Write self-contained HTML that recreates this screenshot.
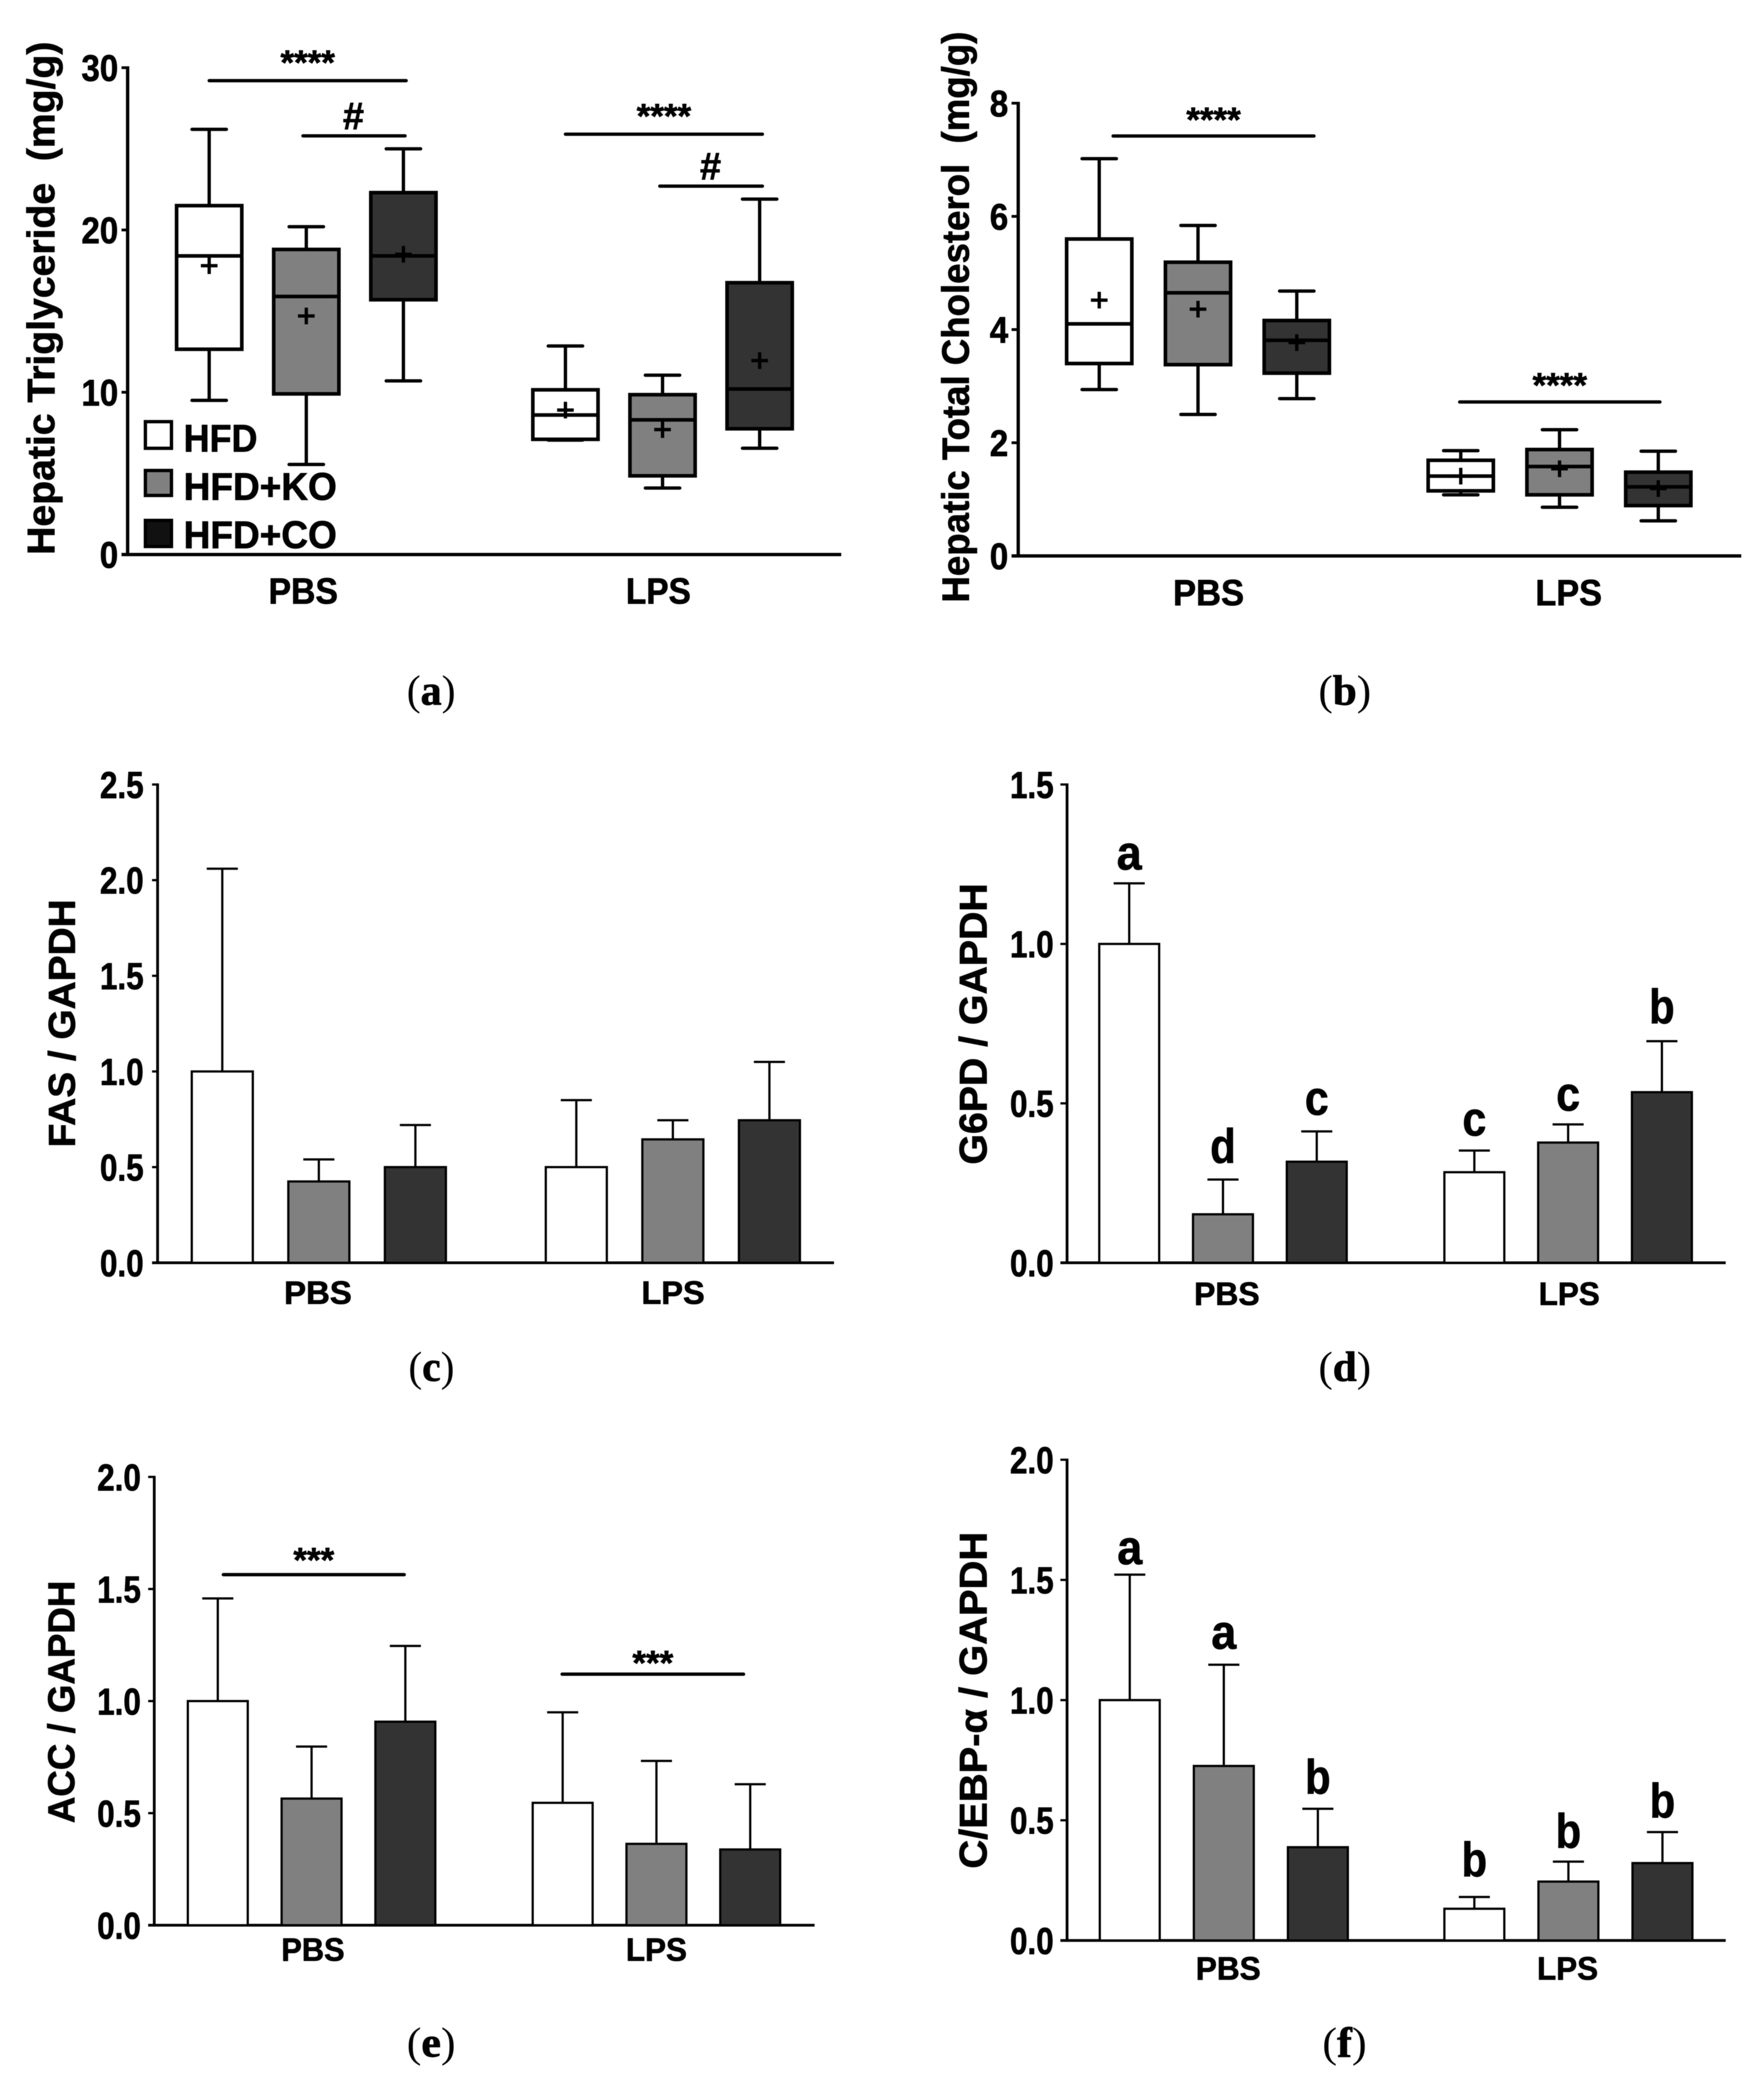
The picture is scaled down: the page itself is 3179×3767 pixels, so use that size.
<!DOCTYPE html>
<html lang="en">
<head>
<meta charset="utf-8">
<title>Hepatic lipid and gene expression charts</title>
<style>
html,body{margin:0;padding:0;background:#fff;}
svg{display:block;filter:blur(0.6px);}
text{font-family:"Liberation Sans",Arial,sans-serif;font-weight:bold;fill:#000;stroke:#000;stroke-width:1.1px;}
.cap{font-family:"Liberation Serif",serif;font-weight:normal;stroke:none;}
.cap tspan{font-weight:bold;stroke:#000;stroke-width:1.2px;}
</style>
</head>
<body>
<svg id="figure" xmlns="http://www.w3.org/2000/svg" width="3179" height="3767" viewBox="0 0 3179 3767">
<rect width="3179" height="3767" fill="#fff"/>

<g id="panel-a">
<text transform="translate(98,1000) rotate(-90)" font-size="70" textLength="925" lengthAdjust="spacingAndGlyphs">Hepatic Triglyceride&#160;&#160;(mg/g)</text>
<text x="484" y="1088" font-size="66" textLength="125" lengthAdjust="spacingAndGlyphs">PBS</text>
<text x="1128" y="1088" font-size="66" textLength="117" lengthAdjust="spacingAndGlyphs">LPS</text>
<text class="cap" x="733" y="1270" font-size="76" textLength="88" lengthAdjust="spacingAndGlyphs">(<tspan>a</tspan>)</text>
</g>

<g id="panel-b">
<text transform="translate(1746,1086) rotate(-90)" font-size="69" textLength="1029" lengthAdjust="spacingAndGlyphs">Hepatic Total Cholesterol&#160;&#160;(mg/g)</text>
<text x="2114" y="1091" font-size="66" textLength="128" lengthAdjust="spacingAndGlyphs">PBS</text>
<text x="2767" y="1091" font-size="66" textLength="120" lengthAdjust="spacingAndGlyphs">LPS</text>
<text class="cap" x="2376" y="1270" font-size="76" textLength="95" lengthAdjust="spacingAndGlyphs">(<tspan>b</tspan>)</text>
</g>

<g id="panel-c">
<text transform="translate(135,2068) rotate(-90)" font-size="68" textLength="447" lengthAdjust="spacingAndGlyphs">FAS / GAPDH</text>
<text x="512" y="2350" font-size="58" textLength="122" lengthAdjust="spacingAndGlyphs">PBS</text>
<text x="1156" y="2350" font-size="58" textLength="114" lengthAdjust="spacingAndGlyphs">LPS</text>
<text class="cap" x="736" y="2489" font-size="76" textLength="83" lengthAdjust="spacingAndGlyphs">(<tspan>c</tspan>)</text>
</g>

<g id="panel-d">
<text transform="translate(1778,2099) rotate(-90)" font-size="70" textLength="507" lengthAdjust="spacingAndGlyphs">G6PD / GAPDH</text>
<text x="2152" y="2352" font-size="58" textLength="118" lengthAdjust="spacingAndGlyphs">PBS</text>
<text x="2773" y="2352" font-size="58" textLength="110" lengthAdjust="spacingAndGlyphs">LPS</text>
<text class="cap" x="2376" y="2489" font-size="76" textLength="95" lengthAdjust="spacingAndGlyphs">(<tspan>d</tspan>)</text>
</g>

<g id="panel-e">
<text transform="translate(134,3286) rotate(-90)" font-size="68" textLength="437" lengthAdjust="spacingAndGlyphs">ACC / GAPDH</text>
<text x="507" y="3534" font-size="58" textLength="114" lengthAdjust="spacingAndGlyphs">PBS</text>
<text x="1128" y="3534" font-size="58" textLength="110" lengthAdjust="spacingAndGlyphs">LPS</text>
<text class="cap" x="733" y="3707" font-size="76" textLength="88" lengthAdjust="spacingAndGlyphs">(<tspan>e</tspan>)</text>
</g>

<g id="panel-f">
<text transform="translate(1778,3368) rotate(-90)" font-size="70" textLength="607" lengthAdjust="spacingAndGlyphs">C/EBP-α / GAPDH</text>
<text x="2155" y="3568" font-size="58" textLength="117" lengthAdjust="spacingAndGlyphs">PBS</text>
<text x="2770" y="3568" font-size="58" textLength="110" lengthAdjust="spacingAndGlyphs">LPS</text>
<text class="cap" x="2383" y="3707" font-size="76" textLength="80" lengthAdjust="spacingAndGlyphs">(<tspan>f</tspan>)</text>
</g>

<g id="legend">
<rect x="262" y="760" width="47" height="48" fill="#fff" stroke="#000" stroke-width="6"/>
<text x="331" y="814" font-size="70" textLength="133" lengthAdjust="spacingAndGlyphs">HFD</text>
<rect x="262" y="848" width="47" height="45" fill="#808080" stroke="#000" stroke-width="6"/>
<text x="331" y="901" font-size="70" textLength="276" lengthAdjust="spacingAndGlyphs">HFD+KO</text>
<rect x="262" y="938" width="47" height="47" fill="#111" stroke="#000" stroke-width="6"/>
<text x="331" y="988" font-size="70" textLength="276" lengthAdjust="spacingAndGlyphs">HFD+CO</text>
</g>
</svg>

<script>
// ---------- shared categories ----------
const groups = ["PBS", "LPS"];
const treatments = ["HFD", "HFD+KO", "HFD+CO"];

// ---------- panel a: hepatic triglyceride (boxes; order PBS x3, LPS x3) ----------
const aTicks = ["0", "10", "20", "30"];
const aWhiskerHigh = [26.2, 20.2, 25.0, 12.85, 11.05, 21.9];
const aQ3 = [21.5, 18.8, 22.3, 10.15, 9.85, 16.75];
const aMedian = [18.4, 15.9, 18.4, 8.6, 8.3, 10.2];
const aQ1 = [12.65, 9.9, 15.7, 7.1, 4.85, 7.75];
const aWhiskerLow = [9.5, 5.55, 10.7, 7.05, 4.1, 6.55];
const aMean = [17.8, 14.7, 18.5, 8.9, 7.7, 11.95];
const aBracketValues = [29.2, 25.8, 25.9, 22.7];
const aBracketLabels = ["****", "#", "****", "#"];

// ---------- panel b: hepatic total cholesterol ----------
const bTicks = ["0", "2", "4", "6", "8"];
const bWhiskerHigh = [7.02, 5.84, 4.68, 1.86, 2.23, 1.85];
const bQ3 = [5.6, 5.19, 4.16, 1.69, 1.88, 1.48];
const bMedian = [4.1, 4.65, 3.81, 1.41, 1.58, 1.22];
const bQ1 = [3.4, 3.38, 3.23, 1.15, 1.08, 0.89];
const bWhiskerLow = [2.94, 2.5, 2.78, 1.08, 0.86, 0.62];
const bMean = [4.52, 4.36, 3.77, 1.41, 1.54, 1.19];
const bBracketValues = [7.42, 2.72];
const bBracketLabels = ["****", "****"];

// ---------- panel c: FAS ----------
const cTicks = ["0.0", "0.5", "1.0", "1.5", "2.0", "2.5"];
const cMeans = [1.0, 0.425, 0.5, 0.5, 0.645, 0.745];
const cErrorTops = [2.06, 0.54, 0.72, 0.85, 0.745, 1.05];

// ---------- panel d: G6PD ----------
const dTicks = ["0.0", "0.5", "1.0", "1.5"];
const dMeans = [1.0, 0.152, 0.317, 0.284, 0.377, 0.535];
const dErrorTops = [1.19, 0.261, 0.412, 0.352, 0.434, 0.695];
const dLetters = ["a", "d", "c", "c", "c", "b"];

// ---------- panel e: ACC ----------
const eTicks = ["0.0", "0.5", "1.0", "1.5", "2.0"];
const eMeans = [1.0, 0.565, 0.908, 0.546, 0.363, 0.338];
const eErrorTops = [1.458, 0.797, 1.246, 0.95, 0.733, 0.629];
const eBracketValues = [1.564, 1.12];
const eBracketLabels = ["***", "***"];

// ---------- panel f: C/EBP-alpha ----------
const fTicks = ["0.0", "0.5", "1.0", "1.5", "2.0"];
const fMeans = [1.0, 0.726, 0.388, 0.132, 0.245, 0.322];
const fErrorTops = [1.522, 1.147, 0.548, 0.181, 0.328, 0.451];
const fLetters = ["a", "a", "b", "b", "b", "b"];

// ---------- drawing ----------
const SVGNS = "http://www.w3.org/2000/svg";
const FILLS = ["#ffffff", "#808080", "#333333"];

function node(parent, tag, name, attrs, content) {
  const el = document.createElementNS(SVGNS, tag);
  
  
  for (const k in attrs) el.setAttribute(k, attrs[k]);
  if (content !== undefined) el.textContent = content;
  parent.appendChild(el);
  return el;
}
function line(parent, name, x1, y1, x2, y2, w, round) {
  const el = node(parent, "line", name, {x1: x1, y1: y1, x2: x2, y2: y2, stroke: "#000", "stroke-width": w});
  if (round) el.setAttribute("stroke-linecap", "round");
  return el;
}
function scales(L) {
  return {
    y: function (v) { return L.yBottom - (v / L.ymax) * (L.yBottom - L.yTop); },
    x: function (i) {
      const g = Math.floor(i / treatments.length), s = i % treatments.length;
      return L.x0 + g * L.groupGap + s * L.step;
    }
  };
}
function drawAxes(g, L, ticks, S) {
  line(g, "y-axis", L.axisX, L.yTop - L.tickW / 2, L.axisX, L.yBottom + 2, L.axisW);
  line(g, "x-axis", L.axisLeft, L.yBottom, L.axisRight, L.yBottom, L.axisW);
  ticks.forEach(function (t) {
    const y = S.y(Number(t));
    line(g, "y-tick", L.axisLeft, y, L.axisX, y, L.tickW);
    const em = (t.replace(".", "").length * 0.556 + (t.indexOf(".") >= 0 ? 0.278 : 0)) * L.tickFont * L.tickSqueeze;
    node(g, "text", "y-tick-label", {
      x: L.tickRight, y: y + L.tickFont * 0.358, "text-anchor": "end",
      "font-size": L.tickFont, textLength: em.toFixed(1), lengthAdjust: "spacingAndGlyphs"
    }, t);
  });
}
function drawBoxes(g, L, S, hi, q3, med, q1, lo, mean) {
  hi.forEach(function (_, i) {
    const x = S.x(i), sw = 6.5, w = L.half - sw / 2;
    const b = node(g, "g", "box-" + groups[Math.floor(i / 3)] + "-" + treatments[i % 3], {});
    line(b, "whisker", x, S.y(hi[i]), x, S.y(lo[i]), 6);
    line(b, "whisker-cap-high", x - L.cap, S.y(hi[i]), x + L.cap, S.y(hi[i]), 6, true);
    line(b, "whisker-cap-low", x - L.cap, S.y(lo[i]), x + L.cap, S.y(lo[i]), 6, true);
    node(b, "rect", "box-body", {
      x: x - w, y: S.y(q3[i]), width: 2 * w, height: S.y(q1[i]) - S.y(q3[i]),
      fill: FILLS[i % 3], stroke: "#000", "stroke-width": sw
    });
    line(b, "median", x - w, S.y(med[i]), x + w, S.y(med[i]), 6.5);
    const m = S.y(mean[i]);
    line(b, "mean-h", x - 15, m, x + 15, m, 6);
    line(b, "mean-v", x, m - 15, x, m + 15, 6);
  });
}
function drawBars(g, L, S, means, tops) {
  means.forEach(function (v, i) {
    const x = S.x(i), sw = 4, w = L.half - sw / 2;
    const b = node(g, "g", "bar-group-" + groups[Math.floor(i / 3)] + "-" + treatments[i % 3], {});
    line(b, "error-bar", x, S.y(v), x, S.y(tops[i]), 4);
    line(b, "error-cap", x - L.cap, S.y(tops[i]), x + L.cap, S.y(tops[i]), 4);
    node(b, "rect", "bar", {
      x: x - w, y: S.y(v), width: 2 * w, height: L.yBottom - S.y(v),
      fill: FILLS[i % 3], stroke: "#000", "stroke-width": sw
    });
  });
}
function drawBrackets(g, L, S, values, labels, spans) {
  values.forEach(function (v, i) {
    const sp = spans[i], y = S.y(v);
    const x1 = S.x(sp[0]) + sp[2], x2 = S.x(sp[1]) + sp[3];
    line(g, "significance-bracket", x1, y, x2, y, L.bracketW, true);
    const mid = (x1 + x2) / 2;
    if (labels[i] === "#") {
      node(g, "text", "significance-hash", {
        x: mid - 1, y: y - 12, "text-anchor": "middle", "font-size": 70,
        textLength: 38, lengthAdjust: "spacingAndGlyphs"
      }, labels[i]);
    } else {
      const fs = 62;
      node(g, "text", "significance-stars", {
        x: mid, y: y - sp[4] + fs * 0.48, "text-anchor": "middle", "font-size": fs,
        textLength: labels[i].length * 24.5, lengthAdjust: "spacingAndGlyphs"
      }, labels[i]);
    }
  });
}
function drawLetters(g, L, S, letters, tops, gaps) {
  const widths = {a: 45, b: 46, c: 43, d: 46};
  letters.forEach(function (t, i) {
    node(g, "text", "group-letter", {
      x: S.x(i), y: S.y(tops[i]) - gaps[i], "text-anchor": "middle", "font-size": 87,
      textLength: widths[t], lengthAdjust: "spacingAndGlyphs", "stroke-width": 1.6
    }, t);
  });
}

const layoutA = {x0: 377, step: 175, groupGap: 642, half: 62, cap: 31, yTop: 122, yBottom: 999.5, ymax: 30,
  axisX: 230, axisLeft: 219, axisRight: 1516, axisW: 6, tickW: 5, tickRight: 213, tickFont: 67, tickSqueeze: 0.89, bracketW: 6};
const layoutB = {x0: 1981, step: 178, groupGap: 651.5, half: 62, cap: 31, yTop: 186, yBottom: 1002, ymax: 8,
  axisX: 1835, axisLeft: 1823, axisRight: 3138, axisW: 6, tickW: 5, tickRight: 1817, tickFont: 67, tickSqueeze: 0.89, bracketW: 6};
const layoutC = {x0: 400.6, step: 174, groupGap: 638, half: 57, cap: 28, yTop: 1414, yBottom: 2276, ymax: 2.5,
  axisX: 284, axisLeft: 274, axisRight: 1503, axisW: 5, tickW: 4, tickRight: 259, tickFont: 68, tickSqueeze: 0.835, bracketW: 4};
const layoutD = {x0: 2035, step: 169, groupGap: 622, half: 56, cap: 28, yTop: 1414, yBottom: 2276, ymax: 1.5,
  axisX: 1923, axisLeft: 1911, axisRight: 3110, axisW: 5, tickW: 4, tickRight: 1899, tickFont: 68, tickSqueeze: 0.835, bracketW: 4};
const layoutE = {x0: 392.5, step: 169, groupGap: 621.5, half: 56, cap: 28, yTop: 2662, yBottom: 3470, ymax: 2,
  axisX: 278, axisLeft: 267, axisRight: 1468, axisW: 5, tickW: 4, tickRight: 254, tickFont: 68, tickSqueeze: 0.835, bracketW: 6};
const layoutF = {x0: 2036, step: 169.5, groupGap: 621, half: 56, cap: 28, yTop: 2631, yBottom: 3497.5, ymax: 2,
  axisX: 1923, axisLeft: 1911, axisRight: 3110, axisW: 5, tickW: 4, tickRight: 1899, tickFont: 68, tickSqueeze: 0.835, bracketW: 4};

(function () {
  const byId = function (id) { return document.getElementById(id); };
  const figure = byId("figure"), legend = byId("legend");

  let S = scales(layoutA), g = byId("panel-a");
  drawAxes(g, layoutA, aTicks, S);
  drawBoxes(g, layoutA, S, aWhiskerHigh, aQ3, aMedian, aQ1, aWhiskerLow, aMean);
  drawBrackets(g, layoutA, S, aBracketValues, aBracketLabels, [[0, 2, 0, 5, 41], [1, 2, -6, 3, 0], [3, 5, 0, 5, 41], [4, 5, -5, 5, 0]]);

  S = scales(layoutB); g = byId("panel-b");
  drawAxes(g, layoutB, bTicks, S);
  drawBoxes(g, layoutB, S, bWhiskerHigh, bQ3, bMedian, bQ1, bWhiskerLow, bMean);
  drawBrackets(g, layoutB, S, bBracketValues, bBracketLabels, [[0, 2, 25, 31, 38], [3, 5, -2, 3, 39]]);

  S = scales(layoutC); g = byId("panel-c");
  drawAxes(g, layoutC, cTicks, S);
  drawBars(g, layoutC, S, cMeans, cErrorTops);

  S = scales(layoutD); g = byId("panel-d");
  drawAxes(g, layoutD, dTicks, S);
  drawBars(g, layoutD, S, dMeans, dErrorTops);
  drawLetters(g, layoutD, S, dLetters, dErrorTops, [25, 30, 30, 27, 25, 32]);

  S = scales(layoutE); g = byId("panel-e");
  drawAxes(g, layoutE, eTicks, S);
  drawBars(g, layoutE, S, eMeans, eErrorTops);
  drawBrackets(g, layoutE, S, eBracketValues, eBracketLabels, [[0, 2, 10, -2, 35], [3, 5, -1, -12, 29]]);

  S = scales(layoutF); g = byId("panel-f");
  drawAxes(g, layoutF, fTicks, S);
  drawBars(g, layoutF, S, fMeans, fErrorTops);
  drawLetters(g, layoutF, S, fLetters, fErrorTops, [19, 29, 27, 37, 25, 26]);

  figure.appendChild(legend);
})();
</script>
</body>
</html>
